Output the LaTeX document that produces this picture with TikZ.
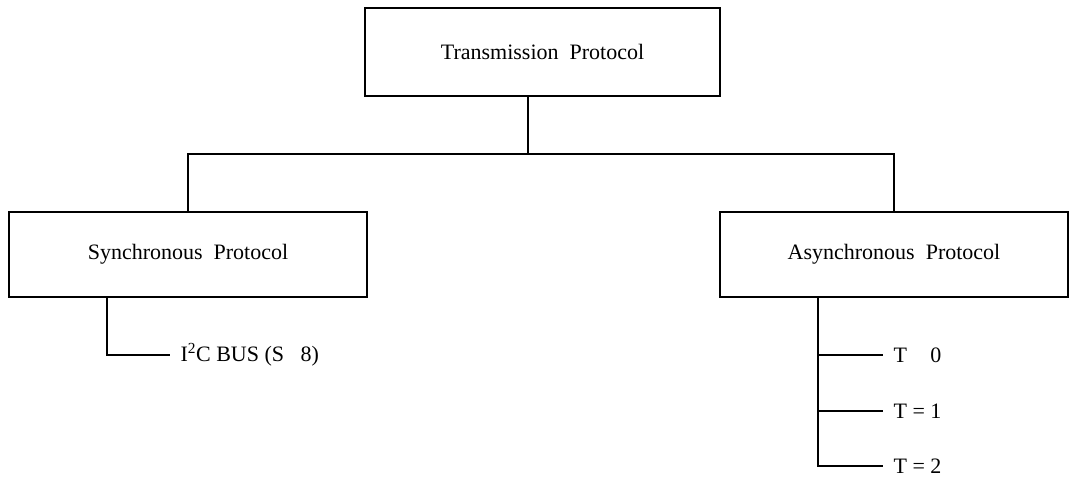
\documentclass[tikz,border=0pt]{standalone}
\usepackage{fontspec}
\setmainfont{Liberation Serif}
\begin{document}
\begin{tikzpicture}[x=1pt, y=-1pt, line width=1.2pt,
    every node/.append style={font=\fontsize{22}{26}\selectfont},
    block/.style={draw, inner sep=0pt},
    leaf/.style={anchor=west, inner xsep=10pt, inner ysep=0pt}]

    \useasboundingbox (0,0) rectangle (1071,479);

    \def\yb{154}            % height of the horizontal bus
    \def\xs{107}            % drop line below Synchronous
    \def\xa{818}            % drop line below Asynchronous

    \node[block, minimum width=355pt, minimum height=88pt] (trans) at (542.5,52) {Transmission\ \ Protocol};
    \node[block, minimum width=358pt, minimum height=85pt] (sync) at (188,254.5) {Synchronous\ \ Protocol};
    \node[block, minimum width=348pt, minimum height=85pt] (async) at (894,254.5) {Asynchronous\ \ Protocol};

    \node[leaf] (i2c) at (170,355) {I\textsuperscript{2}C BUS (S\ \ \ 8)};
    \node[leaf] (t0) at (883,355) {T \phantom{=} 0};
    \node[leaf] (t1) at (883,411) {T = 1};
    \node[leaf] (t2) at (883,466) {T = 2};

    \coordinate (bus) at (528,\yb);
    \coordinate (sdrop) at (\xs,297);
    \coordinate (adrop) at (\xa,297);

    \draw
        (trans.south -| bus) -- (bus)
        (sync.north) -- (sync.north |- bus) -- (async.north |- bus) -- (async.north)
    ;

    \draw
        (sdrop) |- (i2c.west)           % single branch on the left
        (adrop) |- (t2.west)            % spine down to the last one
        (adrop |- t0) -- (t0.west)
        (adrop |- t1) -- (t1.west)
    ;

\end{tikzpicture}
\end{document}
